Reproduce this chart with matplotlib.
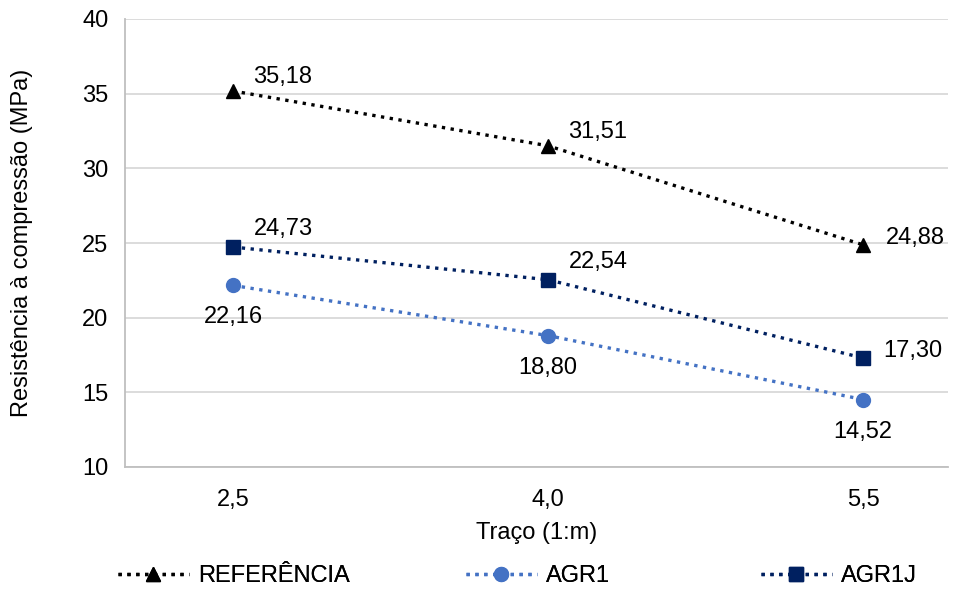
import matplotlib.pyplot as plt
from matplotlib.lines import Line2D
import numpy as np

plt.rcParams['font.family'] = ['Liberation Sans', 'DejaVu Sans']

# Data
tracos = ['2,5', '4,0', '5,5']
series = ['REFERÊNCIA', 'AGR1', 'AGR1J']
referencia = [35.18, 31.51, 24.88]
agr1 = [22.16, 18.80, 14.52]
agr1j = [24.73, 22.54, 17.30]

colors = ['black', '#4472C4', '#002060']
markers = ['^', 'o', 's']
FS = 17

x = np.arange(len(tracos))

fig = plt.figure(figsize=(9.58, 5.90), dpi=100)
ax = fig.add_axes([125/958, 1-467/590, (948-125)/958, (467-19)/590])

for vals, c, m in zip([referencia, agr1, agr1j], colors, markers):
    ax.plot(x, vals, ':', color=c, lw=2.4, marker=m, ms=10)

def fmt(v):
    return f'{v:.2f}'.replace('.', ',')

for i, v in enumerate(referencia):
    ax.annotate(fmt(v), (x[i], v), xytext=(52 if i == 2 else 50, 14 if i < 2 else 7),
                textcoords='offset pixels', ha='center', va='center', fontsize=FS)
for i, v in enumerate(agr1j):
    ax.annotate(fmt(v), (x[i], v), xytext=(50, 18 if i < 2 else 7),
                textcoords='offset pixels', ha='center', va='center', fontsize=FS)
for i, v in enumerate(agr1):
    ax.annotate(fmt(v), (x[i], v), xytext=(0, -32),
                textcoords='offset pixels', ha='center', va='center', fontsize=FS)

ax.set_ylim(10, 40)
ax.set_yticks(range(10, 41, 5))
ax.set_xlim(-108/315, 2 + 85/315)
ax.set_xticks(x)
ax.set_xticklabels(tracos)
ax.tick_params(labelsize=FS, length=0)
ax.tick_params(axis='x', pad=16)
ax.tick_params(axis='y', pad=12)
ax.grid(axis='y', color='#D9D9D9', lw=1.3)
ax.set_axisbelow(True)
for s in ['top', 'right']:
    ax.spines[s].set_visible(False)
ax.spines['left'].set_color('#BFBFBF')
ax.spines['bottom'].set_color('#BFBFBF')
ax.spines['left'].set_linewidth(1.3)
ax.spines['bottom'].set_linewidth(1.3)

ax.set_xlabel('Traço (1:m)', fontsize=FS, labelpad=8)
ax.set_ylabel('Resistência à compressão (MPa)', fontsize=FS)
ax.yaxis.set_label_coords(-(125-33)/823, 0.5)

# legend: three entries placed like the original
leg_x = [118, 466, 761]
for name, c, m, lx in zip(series, colors, markers, leg_x):
    h = Line2D([], [], ls=':', color=c, lw=2.4, marker=m, ms=10)
    fig.add_artist(fig.legend([h], [name], loc='center left',
                              bbox_to_anchor=(lx/958, 1-576/590), frameon=False,
                              fontsize=FS, handlelength=3.0, handletextpad=0.4,
                              borderpad=0, borderaxespad=0))

fig.savefig('out.png', dpi=100)
